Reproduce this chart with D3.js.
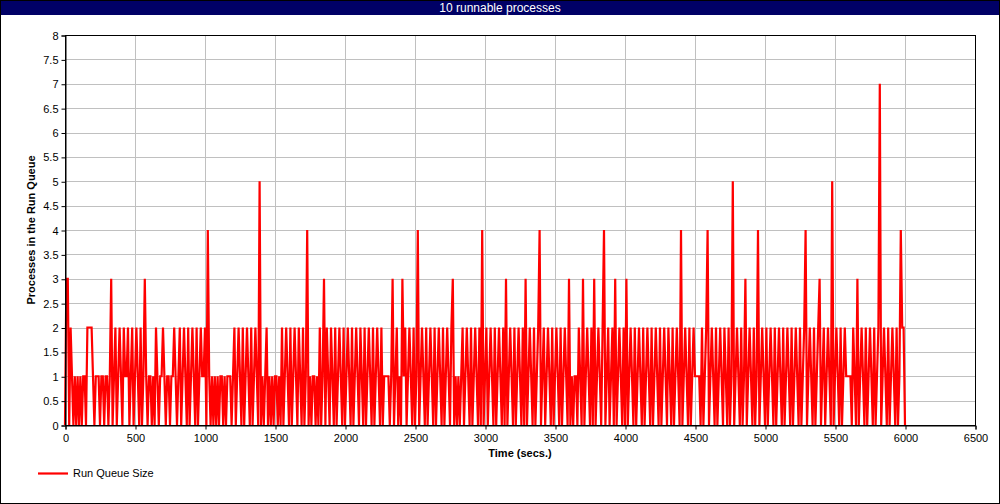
<!DOCTYPE html>
<html><head><meta charset="utf-8">
<script src="https://cdn.jsdelivr.net/npm/d3@7"></script>
<style>
html,body{margin:0;padding:0;background:#fff;}
svg{display:block;}
text{font-family:"Liberation Sans",Arial,sans-serif;}
</style></head>
<body>
<svg id="chart" width="1000" height="504"></svg>
<script>
const title = "10 runnable processes";
const seriesName = "Run Queue Size";
const xLabel = "Time (secs.)";
const yLabel = "Processes in the Run Queue";
const sampleStep = 10; // seconds between samples
const xTicks = [0,500,1000,1500,2000,2500,3000,3500,4000,4500,5000,5500,6000,6500];
const yTicks = [0,0.5,1,1.5,2,2.5,3,3.5,4,4.5,5,5.5,6,6.5,7,7.5,8];
// run queue size, one value every 10 s from t=0 to t=6000
const runQueue = [
0,3,3,0,2,1,0,1,0,1,  0,1,0,1,1,0,2,2,2,2,  1,0,1,1,1,0,1,1,0,1,  1,0,1,3,0,1,2,0,1,2,
1,0,2,1,1,2,0,1,2,0,  1,2,1,0,2,0,1,3,1,0,  1,1,0,1,0,2,1,0,1,1,  2,1,0,1,1,0,1,1,2,1,
0,1,2,0,1,2,1,0,2,0,  1,2,1,0,2,0,1,2,1,1,  2,0,4,1,0,1,0,1,0,1,  0,1,1,0,1,0,1,1,1,0,
1,2,0,1,2,1,0,2,0,1,  2,1,0,2,0,1,2,1,0,5,  0,1,0,1,2,0,1,0,1,0,  1,1,0,1,0,2,0,1,2,1,
0,2,0,1,2,1,0,2,1,0,  2,0,1,4,0,1,0,1,1,0,  1,0,2,0,1,3,0,2,1,0,  2,1,0,2,0,1,2,1,0,2,
0,1,2,1,0,2,0,1,2,1,  0,2,1,0,2,0,1,2,1,0,  2,0,1,2,1,0,2,0,1,1,  1,1,0,1,3,0,1,2,0,1,
0,3,1,2,0,1,2,1,0,2,  0,1,4,0,1,2,1,0,2,0,  1,2,1,0,2,0,1,2,1,0,  2,0,1,2,1,0,2,3,0,1,
0,1,0,1,2,0,1,2,1,0,  2,0,1,2,1,0,2,0,4,0,  1,2,0,1,2,1,0,2,0,1,  2,1,0,2,0,3,0,1,2,1,
0,2,0,1,2,1,0,2,0,3,  0,1,2,1,0,2,0,1,2,4,  0,1,2,0,1,2,1,0,2,0,  1,2,1,0,2,0,1,2,1,0,
3,0,1,0,1,1,0,2,1,0,  3,0,1,2,1,0,2,0,3,0,  1,2,1,0,2,4,0,1,2,0,  1,2,0,3,0,1,2,1,0,2,
0,3,0,1,2,1,0,2,0,1,  2,1,0,2,0,1,2,1,0,2,  0,1,2,1,0,2,0,1,2,1,  0,2,1,0,2,0,1,2,1,0,
4,0,1,2,1,0,2,0,1,2,  1,1,1,1,0,2,0,1,2,4,  0,1,2,1,0,2,0,1,2,1,  0,2,1,0,2,0,1,5,0,1,
2,1,0,2,0,1,3,0,1,2,  1,0,2,0,1,4,0,1,2,1,  0,2,0,1,2,1,0,2,0,1,  2,1,0,2,0,1,2,1,0,2,
0,1,2,1,0,2,0,1,2,4,  0,1,2,1,0,2,0,1,2,3,  0,1,2,0,1,2,1,0,5,0,  1,2,1,0,2,0,1,2,1,1,
1,1,0,2,1,0,3,0,1,2,  1,0,2,0,1,2,1,0,2,0,  1,2,7,0,1,2,1,0,2,0,  1,2,1,0,2,0,1,4,2,2,
0
];
const data = runQueue.map((v,i)=>({t:i*sampleStep, v}));

const svg = d3.select("#chart");
const W = 1000, H = 504;
const m = {left:65, right:25, top:35, bottom:79};
const iw = W - m.left - m.right, ih = H - m.top - m.bottom;

svg.append("rect").attr("x",0.5).attr("y",0.5).attr("width",W-1).attr("height",H-1)
  .attr("fill","#fff").attr("stroke","#000");
svg.append("rect").attr("x",1).attr("y",1).attr("width",W-2).attr("height",14).attr("fill","#000066");
svg.append("text").attr("x",W/2).attr("y",12).attr("text-anchor","middle")
  .attr("fill","#fff").attr("font-size",12).text(title);

const x = d3.scaleLinear().domain([0,6500]).range([m.left, m.left+iw]);
const y = d3.scaleLinear().domain([0,8]).range([m.top+ih, m.top]);

const g = svg.append("g");
// grid
g.selectAll(".gx").data(xTicks).join("line")
  .attr("x1",d=>Math.round(x(d))+0.5).attr("x2",d=>Math.round(x(d))+0.5)
  .attr("y1",m.top).attr("y2",m.top+ih).attr("stroke","#c0c0c0");
g.selectAll(".gy").data(yTicks).join("line")
  .attr("y1",d=>Math.round(y(d))+0.5).attr("y2",d=>Math.round(y(d))+0.5)
  .attr("x1",m.left).attr("x2",m.left+iw).attr("stroke","#c0c0c0");

// line
const line = d3.line().x(d=>x(d.t)).y(d=>y(d.v));
svg.append("path").datum(data).attr("d",line)
  .attr("fill","none").attr("stroke","#ff0000").attr("stroke-width",2.2).attr("stroke-linejoin","miter");

// frame
svg.append("rect").attr("x",m.left+0.5).attr("y",m.top+0.5).attr("width",iw).attr("height",ih)
  .attr("fill","none").attr("stroke","#000");

// axes
const xAxis = d3.axisBottom(x).tickValues(xTicks).tickSize(4).tickFormat(d3.format("d"));
const yAxis = d3.axisLeft(y).tickValues(yTicks).tickSize(4).tickFormat(d=>String(d));
const gx = svg.append("g").attr("transform",`translate(0.5,${m.top+ih+0.5})`).call(xAxis);
const gy = svg.append("g").attr("transform",`translate(${m.left+0.5},0.5)`).call(yAxis);
[gx,gy].forEach(a=>{
  a.select(".domain").attr("stroke","#000");
  a.selectAll(".tick line").attr("stroke","#000");
  a.selectAll(".tick text").attr("fill","#000").attr("font-size",11)
    .attr("font-family","'Liberation Sans',Arial,sans-serif");
});
gx.selectAll(".tick text").attr("dy","0.9em");

svg.append("text").attr("x",x(3250)).attr("y",457).attr("text-anchor","middle")
  .attr("font-size",11).attr("font-weight","bold").text(xLabel);
svg.append("text").attr("transform",`translate(35,${y(4)}) rotate(-90)`)
  .attr("text-anchor","middle").attr("font-size",11).attr("font-weight","bold").text(yLabel);

// legend
svg.append("line").attr("x1",38).attr("x2",68).attr("y1",473.5).attr("y2",473.5)
  .attr("stroke","#ff0000").attr("stroke-width",2.2);
svg.append("text").attr("x",73).attr("y",477).attr("font-size",11).text(seriesName);
</script>
</body></html>
